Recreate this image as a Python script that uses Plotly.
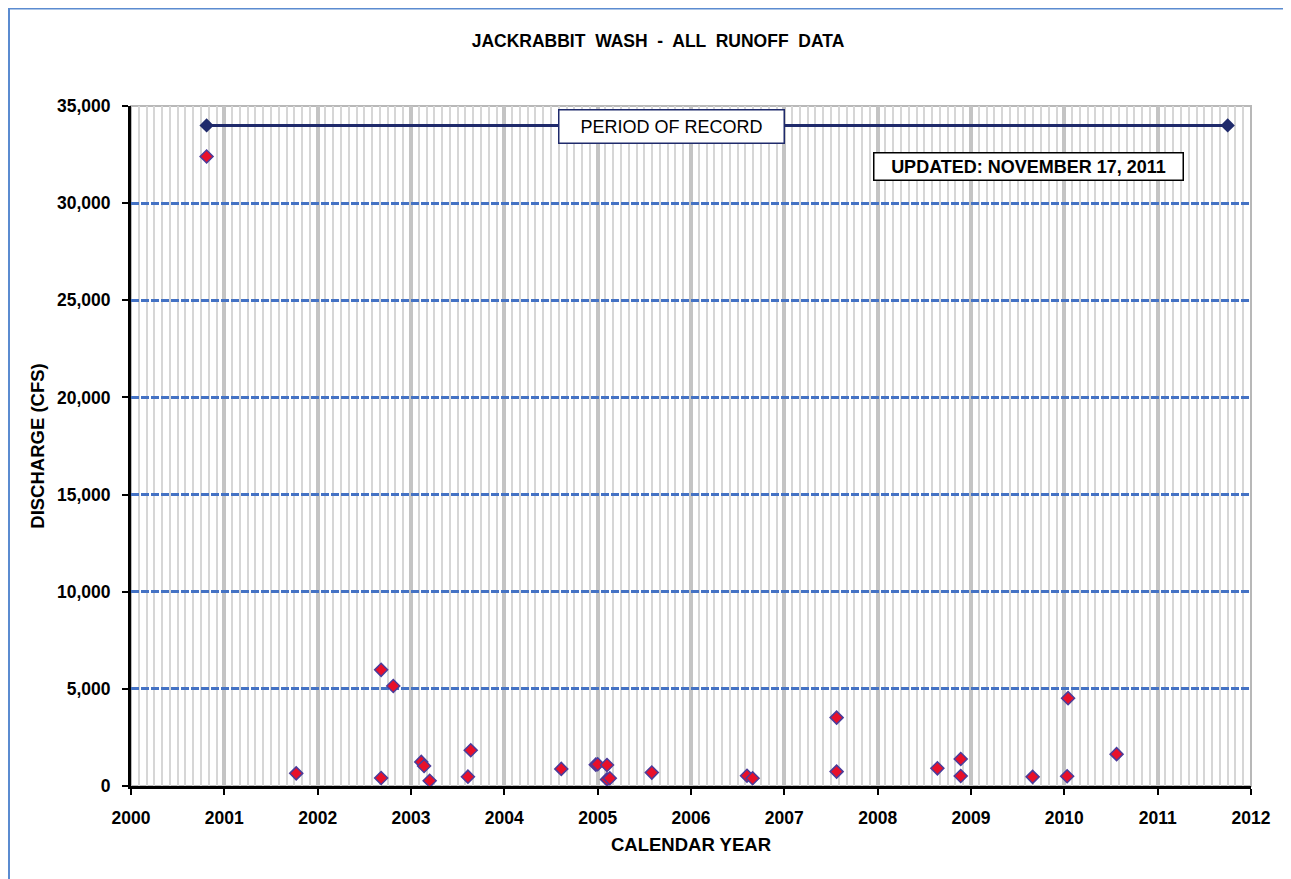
import plotly.graph_objects as go

# Runoff events: decimal year and discharge (cfs)
event_year = [2000.81, 2001.77, 2002.68, 2002.68, 2002.81, 2003.11, 2003.14, 2003.20,
              2003.61, 2003.64, 2004.61, 2004.98, 2005.00, 2005.10, 2005.10, 2005.13,
              2005.58, 2006.60, 2006.66, 2007.56, 2007.56, 2008.64, 2008.89, 2008.89,
              2009.66, 2010.04, 2010.03, 2010.56]
discharge = [32400, 650, 5980, 410, 5150, 1240, 1030, 270,
             480, 1840, 880, 1100, 1120, 1080, 340, 400,
             690, 530, 400, 3520, 740, 910, 1390, 515,
             470, 4520, 500, 1640]

# Period of record
record_year = [2000.81, 2011.75]
record_level = [34000, 34000]

x_ticks = list(range(2000, 2013))
y_ticks = list(range(0, 35001, 5000))

FONT = "Liberation Sans, Arial, sans-serif"
NAVY = "#1F2A6B"
BLUE = "#4472C4"

# page offset (browser body margin) = 8px
OFF = 8
PL, PR, PT, PB = 131, 1251, 106, 786   # plot area in page pixels
W, H = PR - PL, PB - PT

fig = go.Figure()

fig.add_trace(go.Scatter(
    x=record_year, y=record_level, mode="lines+markers",
    line=dict(color=NAVY, width=3),
    marker=dict(symbol="diamond", size=11, color=NAVY),
    showlegend=False, hoverinfo="skip"))

fig.add_trace(go.Scatter(
    x=event_year, y=discharge, mode="markers",
    marker=dict(symbol="diamond", size=10, color="#E8102A",
                line=dict(color="#4B3C9A", width=1.5)),
    showlegend=False))

fig_w, fig_h = 1291 - OFF, 879 - OFF
fig.update_layout(
    width=fig_w, height=fig_h,
    paper_bgcolor="white", plot_bgcolor="white",
    margin=dict(l=PL - OFF, r=fig_w - (PR - OFF), t=PT - OFF, b=fig_h - (PB - OFF)),
    font=dict(family=FONT, color="black"),
    title=dict(text="<b>JACKRABBIT  WASH  -  ALL  RUNOFF  DATA</b>",
               x=(658 - OFF) / fig_w, xanchor="center",
               y=1 - (41 - OFF) / fig_h, yanchor="middle",
               font=dict(size=17.5, family=FONT, color="black")),
)

fig.update_xaxes(
    range=[2000, 2012], tickmode="array", tickvals=x_ticks,
    ticktext=[f"<b>{v}</b>" for v in x_ticks],
    tickfont=dict(size=17.5, family=FONT),
    showline=True, linecolor="black", linewidth=3,
    ticks="outside", ticklen=6, tickwidth=2, tickcolor="black",
    ticklabelstandoff=8,
    showgrid=True, gridcolor="#C4C4C4", gridwidth=3.5,
    minor=dict(dtick=1 / 12, tick0=2000, showgrid=True, gridcolor="#D6D6D6", gridwidth=1.6),
    title=dict(text="<b>CALENDAR YEAR</b>", font=dict(size=18.5, family=FONT), standoff=12),
    zeroline=False, fixedrange=True)

fig.update_yaxes(
    range=[0, 35000], tickmode="array", tickvals=y_ticks,
    ticktext=[f"<b>{v:,}</b>" for v in y_ticks],
    tickfont=dict(size=17.5, family=FONT),
    showline=True, linecolor="black", linewidth=3,
    ticks="outside", ticklen=6, tickwidth=2, tickcolor="black",
    ticklabelstandoff=8,
    showgrid=True, gridcolor=BLUE, gridwidth=2.5, griddash="8px,2px",
    title=dict(text="<b>DISCHARGE (CFS)</b>", font=dict(size=18.5, family=FONT), standoff=8),
    zeroline=False, fixedrange=True)

# plot area border (right/top)
fig.add_shape(type="rect", xref="paper", yref="paper", x0=0, x1=1, y0=0, y1=1,
              line=dict(color="#B8B8B8", width=2), layer="below")

# outer chart frame
fig.add_shape(type="rect", xref="paper", yref="paper",
              x0=(9 - PL) / W, x1=(1290 - PL) / W,
              y0=(PB - 900) / H, y1=(PB - 8.5) / H,
              line=dict(color="#5B8BD0", width=2))

# label boxes (centres in page pixels converted to data coordinates)
def to_data(px, py):
    return 2000 + (px - PL) / W * 12, (PB - py) / H * 35000

bx, by = to_data(671.5, 126)
fig.add_annotation(x=bx, y=by, xref="x", yref="y",
                   text="PERIOD OF RECORD", showarrow=False,
                   font=dict(size=18, family=FONT, color="black"),
                   bgcolor="white", bordercolor=NAVY, borderwidth=1.5,
                   width=222, height=30, align="center")

ux, uy = to_data(1028.5, 166)
fig.add_annotation(x=ux, y=uy, xref="x", yref="y",
                   text="<b>UPDATED: NOVEMBER 17, 2011</b>", showarrow=False,
                   font=dict(size=18, family=FONT, color="black"),
                   bgcolor="white", bordercolor="black", borderwidth=1.5,
                   width=306, height=24, align="center")

fig.write_html("out.html")
